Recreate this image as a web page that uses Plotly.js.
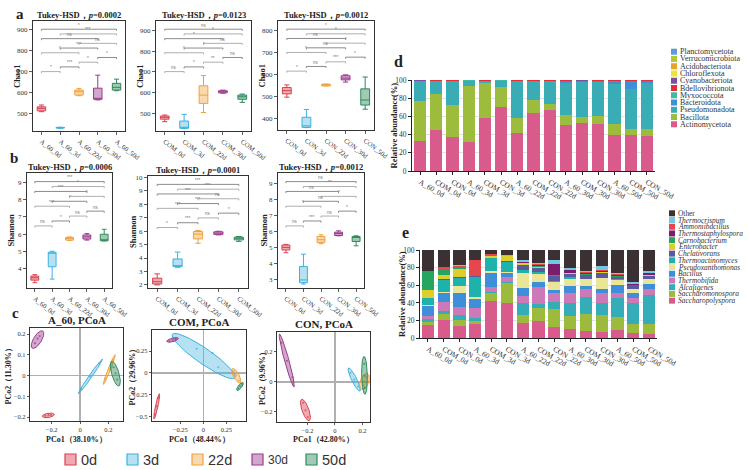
<!DOCTYPE html>
<html>
<head>
<meta charset="utf-8">
<script src="https://cdn.plot.ly/plotly-3.0.1.min.js"></script>
<style>
  html, body { margin: 0; padding: 0; background: #fff; }
  #fig { width: 749px; height: 470px; }
</style>
</head>
<body>
<div id="fig"></div>
<script>
// ---------- data ----------
const days = ['0d', '3d', '22d', '30d', '50d'];
const catA = ['A_60_0d', 'A_60_3d', 'A_60_22d', 'A_60_30d', 'A_60_50d'];
const catCOM = ['COM_0d', 'COM_3d', 'COM_22d', 'COM_30d', 'COM_50d'];
const catCON = ['CON_0d', 'CON_3d', 'CON_22d', 'CON_30d', 'CON_50d'];

// box summaries per group: [lower whisker, q1, median, q3, upper whisker]
const chaoA = [[508, 512, 524, 531, 540], [429, 430, 432, 433, 434], [584, 587, 603, 611, 619], [564, 567, 569, 620, 682], [608, 611, 624, 643, 663]];
const chaoCOM = [[460, 472, 481, 487, 492], [428, 428, 430, 463, 495], [504, 548, 588, 633, 682], [597, 599, 604, 609, 612], [553, 568, 580, 588, 593]];
const chaoCON = [[496, 511, 526, 540, 552], [357, 358, 365, 404, 440], [547, 548, 551, 555, 556], [565, 575, 583, 594, 598], [441, 460, 483, 534, 588]];
const shanA = [[3.16, 3.31, 3.45, 3.55, 3.63], [3.37, 4.09, 4.92, 4.94, 5.0], [5.63, 5.65, 5.75, 5.81, 5.83], [5.65, 5.71, 5.84, 5.95, 6.03], [5.6, 5.61, 5.65, 5.99, 6.28]];
const shanCOM = [[2.0, 2.07, 2.24, 2.5, 2.82], [3.31, 3.36, 3.4, 3.93, 4.44], [5.1, 5.42, 5.78, 5.97, 6.05], [5.72, 5.76, 5.85, 5.95, 5.99], [5.24, 5.35, 5.47, 5.55, 5.6]];
const shanCON = [[4.69, 4.86, 5.02, 5.17, 5.21], [2.75, 2.83, 3.0, 3.83, 4.6], [5.25, 5.33, 5.5, 5.7, 5.8], [5.74, 5.76, 5.88, 5.97, 6.05], [5.12, 5.39, 5.65, 5.7, 5.74]];

// pairwise comparisons (group indices) and their significance marks
const pairs = [[0, 1], [1, 2], [2, 3], [3, 4], [0, 2], [1, 3], [2, 4], [0, 3], [1, 4], [0, 4]];
const sigChaoA = ['*', '***', '*', '*', '*', '***', 'ns', 'ns', '***', '*'];
const sigChaoCOM = ['ns', '*', '**', 'ns', '*', '*', 'ns', '*', '*', 'ns'];
const sigChaoCON = ['*', 'ns', '***', '*', '*', 'ns', '*', 'ns', '*', '*'];
const sigShanA = ['ns', '*', 'ns', 'ns', '***', '*', '*', '***', '*', '***'];
const sigShanCOM = ['*', '***', 'ns', '*', '***', '***', 'ns', '***', '***', '***'];
const sigShanCON = ['ns', '***', 'ns', '*', '*', 'ns', '*', 'ns', '**', 'ns'];

// PCoA ellipses per group: [centre x, centre y, semi-axis dx, semi-axis dy, minor/major ratio]
const ellA = [[-0.224, -0.192, 0.0423, 0.0048, 0.35], [0.073, -0.004, 0.0847, 0.0833, 0.07], [0.206, 0.029, 0.041, 0.0714, 0.08], [-0.300, 0.173, 0.0367, 0.0414, 0.4], [0.249, 0.009, 0.0254, -0.0595, 0.28]];
const ellCOM = [[-0.507, -0.385, 0.029, 0.145, 0.1], [0.004, 0.193, 0.34, -0.25, 0.2], [0.358, -0.033, 0.042, -0.082, 0.35], [-0.335, 0.378, 0.063, 0.019, 0.3], [0.399, -0.156, 0.033, 0.045, 0.35]];
const ellCON = [[-0.215, -0.188, 0.028, -0.071, 0.3], [0.140, 0.015, 0.042, -0.077, 0.2], [0.215, 0.002, 0.0204, 0.053, 0.5], [-0.351, 0.142, 0.053, -0.176, 0.08], [0.215, 0.043, 0.0036, -0.126, 0.15]];
// PCoA sample scores per group: [[x...], [y...]]
const ptsA = [[[-0.245, -0.222, -0.205], [-0.194, -0.191, -0.190]], [[0.01, 0.07, 0.135], [-0.065, -0.005, 0.058]], [[0.18, 0.205, 0.232], [-0.015, 0.03, 0.075]], [[-0.318, -0.300, -0.285], [0.155, 0.178, 0.190]], [[0.236, 0.25, 0.262], [0.04, 0.01, -0.02]]];
const ptsCOM = [[[-0.525, -0.507, -0.49], [-0.48, -0.385, -0.29]], [[-0.072, 0.102, 0.163], [0.276, 0.227, 0.064]], [[0.33, 0.355, 0.385], [0.02, -0.03, -0.09]], [[-0.37, -0.335, -0.30], [0.368, 0.378, 0.389]], [[0.38, 0.40, 0.42], [-0.18, -0.155, -0.13]]];
const ptsCON = [[[-0.232, -0.215, -0.198], [-0.14, -0.19, -0.235]], [[0.112, 0.14, 0.168], [0.06, 0.015, -0.03]], [[0.205, 0.215, 0.226], [-0.025, 0.002, 0.03]], [[-0.39, -0.35, -0.31], [0.26, 0.14, 0.03]], [[0.213, 0.215, 0.217], [0.12, 0.04, -0.04]]];

// relative abundance samples
const samples = ['A_60_0d', 'COM_0d', 'CON_0d', 'A_60_3d', 'COM_3d', 'CON_3d', 'A_60_22d', 'COM_22d', 'CON_22d', 'A_60_30d', 'COM_30d', 'CON_30d', 'A_60_50d', 'COM_50d', 'CON_50d'];

// phylum level (%), bottom to top of each stack
const phyla = ['Actinomycetota', 'Bacillota', 'Pseudomonadota', 'Bacteroidota', 'Myxococcota', 'Bdellovibrionota', 'Cyanobacteriota', 'Chloroflexota', 'Acidobacteriota', 'Verrucomicrobiota', 'Planctomycetota'];
const phylumColors = ['#d95b8b', '#9dbb3c', '#3aacb6', '#3d8fd6', '#43b8a6', '#df2f39', '#7a4ea0', '#e8e736', '#e9a22c', '#b4c833', '#5b9bd8'];
const Actinomycetota = [33, 44.9, 37.5, 32, 58.5, 70.6, 41.9, 64, 67.6, 50.4, 53.3, 51.5, 39.3, 40, 38.6];
const Bacillota = [43.8, 39.7, 34.9, 62, 38.9, 22, 16.6, 14, 5.9, 11, 6.3, 8.8, 12.2, 6.7, 7.4];
const Pseudomonadota = [22.2, 14.4, 27.1, 5.4, 1.9, 7.0, 40.5, 21.3, 25.3, 35.6, 38.9, 38.2, 44.1, 44.1, 51.4];
const Bacteroidota = [0.4, 0.6, 0.1, 0.3, 0.3, 0.1, 0.5, 0.3, 0.7, 2.5, 0.5, 1.0, 3.9, 8.7, 2.1];
const Myxococcota = [0.2, 0.1, 0.1, 0.1, 0.1, 0.1, 0.2, 0.1, 0.2, 0.2, 0.2, 0.2, 0.2, 0.2, 0.2];
const Bdellovibrionota = [0.1, 0.1, 0.1, 0.1, 0.1, 0.1, 0.1, 0.1, 0.1, 0.1, 0.5, 0.1, 0.1, 0.1, 0.1];
const Cyanobacteriota = [0.1, 0.1, 0.1, 0.1, 0.1, 0.1, 0.1, 0.1, 0.1, 0.1, 0.1, 0.1, 0.1, 0.1, 0.1];
const Chloroflexota = [0.05, 0.05, 0.05, 0.05, 0.05, 0.05, 0.05, 0.05, 0.05, 0.05, 0.05, 0.05, 0.05, 0.05, 0.05];
const Acidobacteriota = [0.05, 0.05, 0.05, 0.05, 0.05, 0.05, 0.05, 0.05, 0.05, 0.05, 0.05, 0.05, 0.05, 0.05, 0.05];
const Verrucomicrobiota = [0.1, 0.1, 0.1, 0.1, 0.1, 0.1, 0.1, 0.1, 0.1, 0.1, 0.1, 0.1, 0.1, 0.1, 0.1];
const Planctomycetota = [0.05, 0.05, 0.05, 0.05, 0.05, 0.05, 0.05, 0.05, 0.05, 0.05, 0.05, 0.05, 0.05, 0.05, 0.05];
const phylumValues = [Actinomycetota, Bacillota, Pseudomonadota, Bacteroidota, Myxococcota, Bdellovibrionota, Cyanobacteriota, Chloroflexota, Acidobacteriota, Verrucomicrobiota, Planctomycetota];

// genus level (%), bottom to top of each stack
const genera = ['Saccharopolyspora', 'Saccharomonospora', 'Alcaligenes', 'Thermobifida', 'Bacillus', 'Pseudoxanthomonas', 'Thermoactinomyces', 'Chelativorans', 'Enterobacter', 'Carnobacterium', 'Thermostaphylospora', 'Ammoniibacillus', 'Thermocrispum', 'Other'];
const genusColors = ['#d95b8b', '#9cbb3d', '#35adb8', '#cd79b7', '#3c8fd8', '#ebe597', '#1fb2ad', '#5a5b9f', '#dccf2c', '#25a55f', '#7a1d6b', '#e5474d', '#74c7e3', '#3b3133'];
const Saccharopolyspora = [14.3, 20.8, 13.2, 15.8, 42.3, 40, 17, 18.9, 12.5, 10.6, 8.3, 6.8, 9.4, 5.7, 4.9];
const Saccharomonospora = [4.5, 6.8, 7.5, 3.8, 9.4, 23, 8.7, 15.1, 20.8, 14.7, 18.9, 19.6, 15.1, 10.6, 10.9];
const Alcaligenes = [3.0, 3.4, 5.7, 3.0, 0.5, 0.5, 14, 4.9, 7.5, 15.1, 19.2, 13.2, 21.5, 23.4, 33.2];
const Thermobifida = [3.8, 10.6, 9.4, 11.3, 5.7, 6.5, 8.3, 19.6, 10.9, 10.6, 9.0, 11.3, 5.7, 6.4, 6.4];
const Bacillus = [11.0, 9.4, 15.8, 10.2, 16.2, 4.5, 9.4, 5.7, 3.0, 8.3, 4.2, 4.5, 8.7, 4.9, 5.7];
const Pseudoxanthomonas = [1.0, 1.9, 7.5, 2.3, 1.9, 0.5, 17, 8.7, 9.4, 8.3, 7.2, 12.5, 5.7, 4.9, 5.7];
const Thermoactinomyces = [7.5, 13.2, 9.8, 23.4, 15.1, 12, 3.0, 2.6, 1.1, 1.9, 1.0, 0.8, 0.8, 0.4, 0.4];
const Chelativorans = [1.0, 1.1, 1.1, 0.5, 0.5, 0.3, 5.7, 3.8, 5.3, 3.8, 3.8, 5.7, 2.6, 3.8, 3.8];
const Enterobacter = [8.3, 4.5, 8.3, 0.5, 1.9, 6, 1.9, 1.9, 0.4, 0.5, 0.4, 0.4, 0.4, 0.4, 0.4];
const Carnobacterium = [21.9, 6.8, 2.6, 0.5, 1.1, 0.3, 0.8, 0.4, 0.4, 0.5, 0.4, 0.4, 0.4, 0.4, 0.4];
const Thermostaphylospora = [0.3, 0.5, 0.4, 0.5, 0.3, 0.2, 0.4, 1.9, 13.2, 3.0, 1.3, 1.0, 1.1, 0.5, 1.9];
const Ammoniibacillus = [0, 1.9, 1.1, 17.0, 0.8, 0.2, 0.4, 0.4, 0.4, 0.4, 1.3, 0.9, 1.1, 0.5, 0.4];
const Thermocrispum = [0.3, 0.3, 0.4, 0.3, 0.5, 0.3, 1.9, 1.1, 3.8, 2.6, 1.9, 4.5, 1.9, 1.9, 1.9];
const Other = [23.1, 18.8, 17.2, 10.9, 3.8, 5.7, 11.5, 15.0, 11.3, 19.7, 23.1, 18.4, 25.6, 36.2, 24.0];
const genusValues = [Saccharopolyspora, Saccharomonospora, Alcaligenes, Thermobifida, Bacillus, Pseudoxanthomonas, Thermoactinomyces, Chelativorans, Enterobacter, Carnobacterium, Thermostaphylospora, Ammoniibacillus, Thermocrispum, Other];

// ---------- styling ----------
const W = 749, H = 470;
const SERIF = 'Liberation Serif, Times New Roman, serif';
const SANS = 'Liberation Sans, Arial, sans-serif';
const dayLine = ['#d9434f', '#3cb1e0', '#f0a13a', '#9a3b8d', '#2e8a5a'];
const dayFill = ['rgba(217,67,79,0.45)', 'rgba(60,177,224,0.38)', 'rgba(240,161,58,0.4)', 'rgba(154,59,141,0.45)', 'rgba(46,138,90,0.45)'];

const px = (l, r, t, b) => ({ l, r, t, b, x: [l / W, r / W], y: [1 - b / H, 1 - t / H] });
const fx = v => v / W;
const fy = v => 1 - v / H;
const id = n => (n === 1 ? '' : String(n));

const data = [];
const shapes = [];
const annotations = [];
const layout = {
  width: W, height: H,
  margin: { l: 0, r: 0, t: 0, b: 0 },
  paper_bgcolor: '#fff', plot_bgcolor: 'rgba(0,0,0,0)',
  showlegend: false,
  barmode: 'stack',
  boxmode: 'overlay',
  font: { family: SERIF, color: '#222' },
  shapes, annotations
};

function frame(extra) {
  return Object.assign({
    showline: true, mirror: true, linecolor: '#333', linewidth: 1.1,
    ticks: 'outside', ticklen: 3, tickwidth: 0.8, tickcolor: '#333',
    showgrid: false, zeroline: false, fixedrange: true,
    tickfont: { family: SERIF, size: 7, color: '#333' }
  }, extra);
}

function text(x, y, s, size, opts) {
  annotations.push(Object.assign({
    xref: 'paper', yref: 'paper', x: fx(x), y: fy(y), text: s, showarrow: false,
    font: { family: SERIF, size, color: '#222' }, xanchor: 'center', yanchor: 'middle'
  }, opts || {}));
}

// ---------- a, b: alpha diversity box plots ----------
const boxPanels = [
  { n: 1, box: px(33, 125, 21, 131), cats: catA, stats: chaoA, range: [416, 940], ticks: [500, 600, 700, 800, 900], sig: sigChaoA, p: '0.0002', yt: 'Chao1', ytx: 17 },
  { n: 2, box: px(156, 251, 21, 131), cats: catCOM, stats: chaoCOM, range: [415, 945], ticks: [500, 600, 700, 800, 900], sig: sigChaoCOM, p: '0.0123', yt: 'Chao1', ytx: 140 },
  { n: 3, box: px(278, 374, 21, 130), cats: catCON, stats: chaoCON, range: [346, 844], ticks: [400, 500, 600, 700, 800], sig: sigChaoCON, p: '0.0012', yt: 'Chao1', ytx: 262 },
  { n: 4, box: px(27, 112, 173, 288), cats: catA, stats: shanA, range: [2.85, 9.57], ticks: [4, 5, 6, 7, 8, 9], sig: sigShanA, p: '0.0006', yt: 'Shannon', ytx: 11 },
  { n: 5, box: px(148, 248, 176, 288), cats: catCOM, stats: shanCOM, range: [1.77, 10.1], ticks: [2, 3, 4, 5, 6, 7, 8, 9, 10], sig: sigShanCOM, p: '0.0001', yt: 'Shannon', ytx: 133 },
  { n: 6, box: px(278, 364, 173, 288), cats: catCON, stats: shanCON, range: [2.5, 9.64], ticks: [3, 4, 5, 6, 7, 8, 9], sig: sigShanCON, p: '0.0012', yt: 'Shannon', ytx: 264 }
];

const LEVEL0 = 0.54, LEVEL_STEP = 0.0428, TIP = 0.014;

boxPanels.forEach(P => {
  const k = id(P.n);
  layout['xaxis' + k] = frame({
    domain: P.box.x, anchor: 'y' + k, range: [-0.45, 4.45],
    tickvals: [0, 1, 2, 3, 4], ticktext: P.cats, tickangle: 38,
    tickfont: { family: SERIF, size: 6.8, color: '#333' }
  });
  layout['yaxis' + k] = frame({
    domain: P.box.y, anchor: 'x' + k, range: P.range, tickvals: P.ticks
  });
  P.stats.forEach((s, g) => {
    data.push({
      type: 'box', xaxis: 'x' + k, yaxis: 'y' + k,
      x: [g], lowerfence: [s[0]], q1: [s[1]], median: [s[2]], q3: [s[3]], upperfence: [s[4]],
      width: 0.45, whiskerwidth: 0.6, boxpoints: false,
      line: { color: dayLine[g], width: 1 }, fillcolor: dayFill[g],
      hoverinfo: 'skip', showlegend: false
    });
  });
  // significance brackets, stacked upward by comparison order
  pairs.forEach((pr, i) => {
    const y = LEVEL0 + i * LEVEL_STEP;
    shapes.push({
      type: 'path', xref: 'x' + k, yref: 'y' + k + ' domain',
      path: `M ${pr[0]},${y - TIP} L ${pr[0]},${y} L ${pr[1]},${y} L ${pr[1]},${y - TIP}`,
      line: { color: i % 2 ? '#6f6f6f' : '#9a9a9a', width: 0.8 }
    });
    annotations.push({
      xref: 'x' + k, yref: 'y' + k + ' domain', x: (pr[0] + pr[1]) / 2, y: y + 0.004,
      text: P.sig[i], showarrow: false, yanchor: 'bottom', borderpad: 0,
      font: { family: SANS, size: 4.5, color: '#777' }
    });
  });
  text((P.box.l + P.box.r) / 2, P.box.t - 6, '<b>Tukey-HSD，<i>p</i>=' + P.p + '</b>', 8.5);
  text(P.ytx, (P.box.t + P.box.b) / 2, '<b>' + P.yt + '</b>', 8.5, { textangle: -90 });
});

// ---------- c: PCoA ----------
const pcoaPanels = [
  { n: 7, box: px(30, 123, 328, 421), xr: [-0.353, 0.303], yr: [-0.219, 0.229], xt: [-0.2, 0, 0.2], yt: [-0.2, -0.1, 0, 0.1, 0.2], ell: ellA, pts: ptsA, title: 'A_60, PCoA', ax1: 'PCo1（38.10%）', ax2: 'PCo2（11.30%）', ytx: 8 },
  { n: 8, box: px(152, 246, 330, 421), xr: [-0.558, 0.464], yr: [-0.553, 0.492], xt: [-0.25, 0, 0.25], yt: [-0.5, -0.25, 0, 0.25], ell: ellCOM, pts: ptsCOM, title: 'COM, PCoA', ax1: 'PCo1（48.44%）', ax2: 'PCo2（29.96%）', ytx: 132 },
  { n: 9, box: px(277, 370, 332, 422), xr: [-0.422, 0.255], yr: [-0.268, 0.332], xt: [-0.2, 0, 0.2], yt: [-0.2, 0, 0.2], ell: ellCON, pts: ptsCON, title: 'CON, PCoA', ax1: 'PCo1（42.80%）', ax2: 'PCo2（9.96%）', ytx: 262 }
];

function ellipsePath(e, sx, sy) {
  const [cx, cy, ux, uy, r] = e;
  const vx = uy * sy * r / sx, vy = -ux * sx * r / sy;
  const xs = [], ys = [];
  for (let i = 0; i <= 72; i++) {
    const t = 2 * Math.PI * i / 72;
    xs.push(cx + ux * Math.cos(t) + vx * Math.sin(t));
    ys.push(cy + uy * Math.cos(t) + vy * Math.sin(t));
  }
  return { xs, ys };
}

pcoaPanels.forEach(P => {
  const k = id(P.n);
  const zl = { zeroline: true, zerolinecolor: '#b0b0b0', zerolinewidth: 1.6, ticklen: 2, tickfont: { family: SERIF, size: 6.5, color: '#333' } };
  layout['xaxis' + k] = frame(Object.assign({ domain: P.box.x, anchor: 'y' + k, range: P.xr, tickvals: P.xt }, zl));
  layout['yaxis' + k] = frame(Object.assign({ domain: P.box.y, anchor: 'x' + k, range: P.yr, tickvals: P.yt }, zl));
  const sx = (P.box.r - P.box.l) / (P.xr[1] - P.xr[0]);
  const sy = (P.box.b - P.box.t) / (P.yr[1] - P.yr[0]);
  P.ell.forEach((e, g) => {
    const path = ellipsePath(e, sx, sy);
    data.push({
      type: 'scatter', mode: 'lines', xaxis: 'x' + k, yaxis: 'y' + k,
      x: path.xs, y: path.ys, fill: 'toself', fillcolor: dayFill[g],
      line: { color: dayLine[g], width: 1 }, hoverinfo: 'skip'
    });
    data.push({
      type: 'scatter', mode: 'markers', xaxis: 'x' + k, yaxis: 'y' + k,
      x: P.pts[g][0], y: P.pts[g][1],
      marker: { color: dayLine[g], size: 2.2, opacity: 0.7 }, hoverinfo: 'skip'
    });
  });
  const cxm = (P.box.l + P.box.r) / 2;
  text(cxm, P.box.t - 8, '<b>' + P.title + '</b>', 11);
  text(cxm, 439, '<b>' + P.ax1 + '</b>', 8);
  text(P.ytx, (P.box.t + P.box.b) / 2, '<b>' + P.ax2 + '</b>', 8, { textangle: -90 });
});

// ---------- d, e: stacked relative abundance ----------
function stackAxes(n, box) {
  const k = id(n);
  layout['xaxis' + k] = {
    domain: box.x, anchor: 'y' + k, type: 'category', categoryorder: 'array', categoryarray: samples,
    range: [-0.5, 14.5], showline: true, linecolor: '#222', linewidth: 1.1, ticks: 'outside', ticklen: 3,
    tickcolor: '#222', tickangle: 30, tickfont: { family: SERIF, size: 7.5, color: '#333' },
    showgrid: false, zeroline: false, fixedrange: true
  };
  layout['yaxis' + k] = {
    domain: box.y, anchor: 'x' + k, range: [0, 100.3], tickvals: [0, 20, 40, 60, 80, 100],
    showline: true, linecolor: '#222', linewidth: 1.1, ticks: 'outside', ticklen: 3, tickcolor: '#222',
    tickfont: { family: SERIF, size: 7.5, color: '#333' },
    showgrid: true, gridcolor: '#dcdcdc', gridwidth: 0.8, zeroline: false, fixedrange: true
  };
}

const boxD = px(412, 655, 80, 171);
const boxE = px(420, 657, 250, 338);
stackAxes(10, boxD);
stackAxes(11, boxE);

phyla.forEach((name, i) => {
  data.push({
    type: 'bar', xaxis: 'x10', yaxis: 'y10', name, x: samples, y: phylumValues[i],
    width: 0.76, marker: { color: phylumColors[i], line: { width: 0 } }, hoverinfo: 'skip'
  });
});
genera.forEach((name, i) => {
  data.push({
    type: 'bar', xaxis: 'x11', yaxis: 'y11', name, x: samples, y: genusValues[i],
    width: 0.78, marker: { color: genusColors[i], line: { width: 0 } }, hoverinfo: 'skip'
  });
});

text(393, (boxD.t + boxD.b) / 2, '<b>Relative abundance(%)</b>', 8.5, { textangle: -90 });
text(402, (boxE.t + boxE.b) / 2, '<b>Relative abundance(%)</b>', 8.5, { textangle: -90 });

// key for d / e: top entry is the top of the stack
function stackKey(names, colors, x0, y0, step, italic, size) {
  const n = names.length;
  for (let r = 0; r < n; r++) {
    const i = n - 1 - r;
    const y = y0 + r * step;
    shapes.push({
      type: 'rect', xref: 'paper', yref: 'paper',
      x0: fx(x0), x1: fx(x0 + 6), y0: fy(y + 3), y1: fy(y - 3),
      fillcolor: colors[i], line: { width: 0 }
    });
    const label = italic && names[i] !== 'Other' ? '<i>' + names[i] + '</i>' : names[i];
    text(x0 + 7.5, y, label, size, { xanchor: 'left', borderpad: 0, font: { family: SERIF, size, color: '#333' } });
  }
}
stackKey(phyla, phylumColors, 671, 51.7, 7.26, false, 8);
stackKey(genera, genusColors, 669, 213.3, 6.72, true, 7.4);

// ---------- panel letters ----------
text(20, 14, '<b>a</b>', 15);
text(14, 158, '<b>b</b>', 15);
text(15, 313, '<b>c</b>', 15);
text(399, 62, '<b>d</b>', 16);
text(406, 232, '<b>e</b>', 16);

// ---------- sampling-day key ----------
const keyX = [65, 127, 192, 252, 306];
days.forEach((d, g) => {
  shapes.push({
    type: 'rect', xref: 'paper', yref: 'paper',
    x0: fx(keyX[g]), x1: fx(keyX[g] + 11), y0: fy(465), y1: fy(454),
    fillcolor: dayFill[g], line: { color: dayLine[g], width: 1.2 }
  });
  text(keyX[g] + 13.5, 459.5, d, g === 3 ? 12 : 14.5, {
    xanchor: 'left', font: { family: SANS, size: g === 3 ? 12 : 14.5, color: '#333' }
  });
});

Plotly.newPlot('fig', data, layout, { staticPlot: true, displayModeBar: false });
</script>
</body>
</html>
